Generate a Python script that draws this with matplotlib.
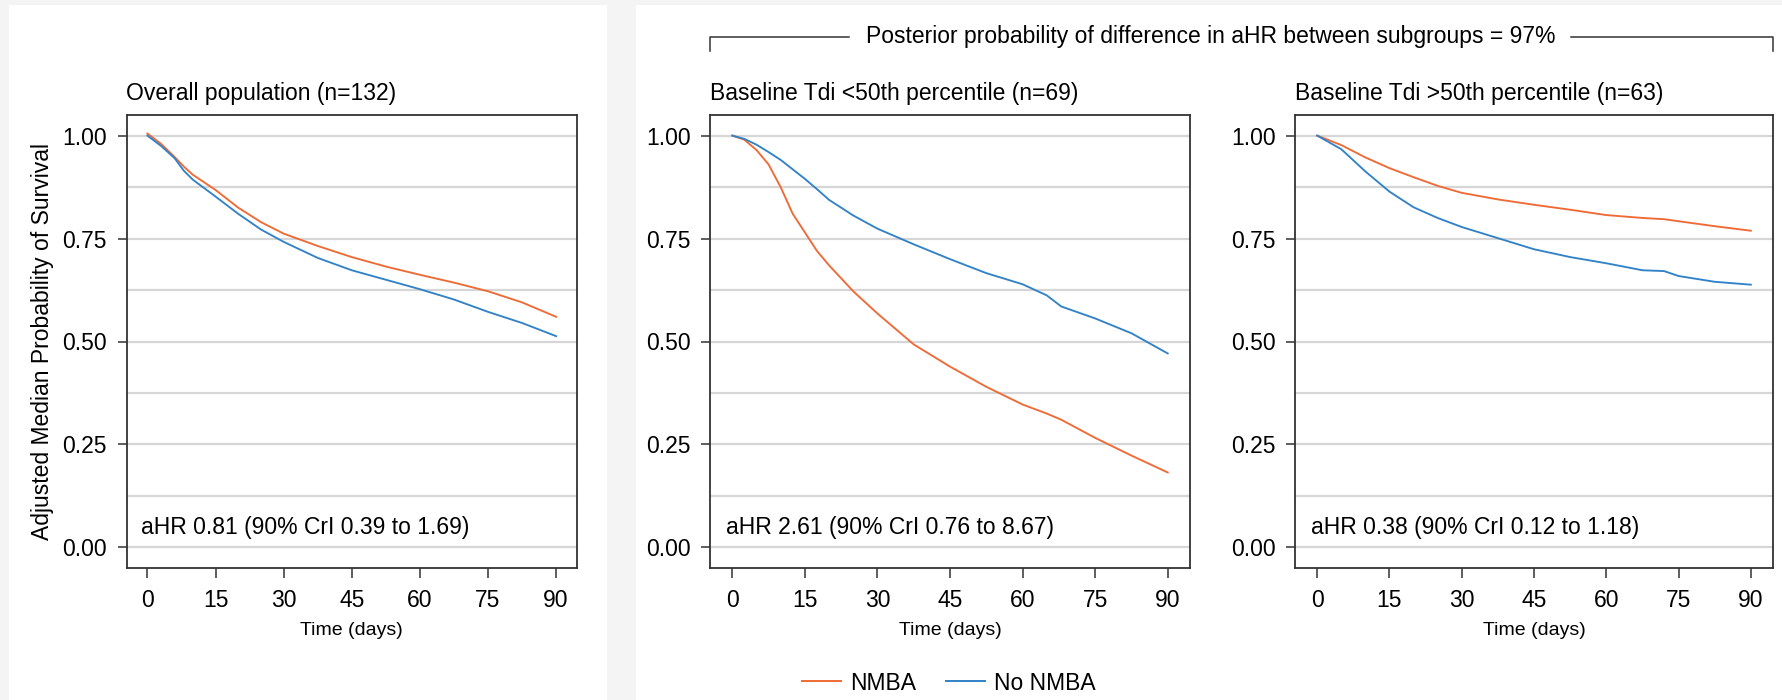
import numpy as np
import matplotlib.pyplot as plt
from matplotlib.lines import Line2D
from matplotlib.patches import Rectangle

plt.rcParams['font.family'] = ['Liberation Sans', 'DejaVu Sans']

# ====================== DATA ======================
t = [0, 3, 6, 8, 10, 15, 20, 25, 30, 37.5, 45, 52.5, 60, 67.5, 75, 82.5, 90]
overall_nmba    = [1.005, 0.98, 0.948, 0.925, 0.905, 0.868, 0.825, 0.79, 0.762, 0.732, 0.705, 0.682, 0.662, 0.643, 0.622, 0.595, 0.56]
overall_no_nmba = [1.0, 0.975, 0.945, 0.915, 0.893, 0.852, 0.81, 0.772, 0.742, 0.703, 0.673, 0.65, 0.627, 0.602, 0.572, 0.545, 0.513]

t_low = [0, 2.5, 5, 7.5, 10, 12.5, 15, 17.5, 20, 25, 30, 37.5, 45, 52.5, 60, 65, 68, 75, 82.5, 90]
low_nmba    = [1.0, 0.99, 0.965, 0.93, 0.875, 0.81, 0.765, 0.72, 0.685, 0.622, 0.568, 0.493, 0.439, 0.39, 0.347, 0.325, 0.31, 0.266, 0.223, 0.182]
low_no_nmba = [1.0, 0.992, 0.978, 0.96, 0.941, 0.918, 0.895, 0.87, 0.844, 0.806, 0.774, 0.736, 0.70, 0.666, 0.639, 0.612, 0.585, 0.556, 0.52, 0.471]

t_high = [0, 5, 10, 15, 20, 25, 30, 37.5, 45, 52.5, 60, 67.5, 72, 75, 82.5, 90]
high_nmba    = [1.0, 0.977, 0.947, 0.921, 0.899, 0.878, 0.861, 0.845, 0.832, 0.82, 0.807, 0.80, 0.797, 0.792, 0.78, 0.769]
high_no_nmba = [1.0, 0.967, 0.913, 0.864, 0.826, 0.80, 0.778, 0.751, 0.724, 0.705, 0.69, 0.673, 0.671, 0.659, 0.645, 0.638]

titles = ['Overall population (n=132)',
          'Baseline Tdi <50th percentile (n=69)',
          'Baseline Tdi >50th percentile (n=63)']
ahr_text = ['aHR 0.81 (90% CrI 0.39 to 1.69)',
            'aHR 2.61 (90% CrI 0.76 to 8.67)',
            'aHR 0.38 (90% CrI 0.12 to 1.18)']
xticks = [0, 15, 30, 45, 60, 75, 90]
yticks = [0.0, 0.25, 0.5, 0.75, 1.0]

ORANGE = '#ef6a35'
BLUE = '#3282c8'
FS = 16.5

# ====================== FIGURA ======================
W, H = 1782, 700
fig = plt.figure(figsize=(W / 100, H / 100), dpi=100, facecolor='#f4f4f4')

# painéis brancos de fundo (atrás dos eixos)
fig.patches.append(Rectangle((9 / W, 0), 598 / W, 1 - 5 / H, transform=fig.transFigure,
                             facecolor='white', edgecolor='none', zorder=-10))
fig.patches.append(Rectangle((636 / W, 0), 1 - 636 / W, 1 - 5 / H, transform=fig.transFigure,
                             facecolor='white', edgecolor='none', zorder=-10))

bottom = 1 - 568 / H
height = 453 / H
boxes = [(126.5, 450.5), (710, 480), (1295, 478)]
series = [(t, overall_nmba, overall_no_nmba),
          (t_low, low_nmba, low_no_nmba),
          (t_high, high_nmba, high_no_nmba)]

for i, ((x0, w), (tt, nm, no)) in enumerate(zip(boxes, series)):
    ax = fig.add_axes([x0 / W, bottom, w / W, height])
    ax.set_facecolor('white')
    ax.plot(tt, nm, color=ORANGE, lw=1.35, zorder=3)
    ax.plot(tt, no, color=BLUE, lw=1.35, zorder=3)
    ax.set_xlim(-4.6, 94.6)
    ax.set_ylim(-0.05, 1.05)
    ax.set_xticks(xticks)
    ax.set_yticks(yticks)
    ax.set_yticklabels(['%.2f' % v for v in yticks])
    ax.set_yticks(np.arange(0.125, 1.0, 0.25), minor=True)
    ax.grid(True, which='both', axis='y', color='#d6d6d6', lw=1.6, zorder=1)
    ax.tick_params(axis='both', which='major', labelsize=FS, width=1.1, color='#333333')
    ax.tick_params(axis='x', which='major', length=7, pad=8)
    ax.tick_params(axis='y', which='major', length=6.5, pad=7.5)
    ax.tick_params(axis='y', which='minor', length=0)
    for s in ax.spines.values():
        s.set_color('#333333')
        s.set_linewidth(1.3)
    ax.set_xlabel('Time (days)', fontsize=14, labelpad=7)
    ax.set_title(titles[i], loc='left', fontsize=FS, pad=11)
    ax.text(-1.3, 0.048, ahr_text[i], fontsize=FS, va='center', ha='left')
    if i == 0:
        ax.set_ylabel('Adjusted Median Probability of Survival', fontsize=FS, labelpad=6)

# ====================== COLCHETE DO TOPO ======================
yb = 1 - 37 / H
ytip = 1 - 51 / H
fig.add_artist(Line2D([710 / W, 710 / W, 849 / W], [ytip, yb, yb], color='#333333', lw=1.1))
fig.add_artist(Line2D([1571 / W, 1773 / W, 1773 / W], [yb, yb, ytip], color='#333333', lw=1.1))
fig.text(1211 / W, yb, 'Posterior probability of difference in aHR between subgroups = 97%',
         ha='center', va='center', fontsize=FS)

# ====================== LEGENDA ======================
handles = [Line2D([], [], color=ORANGE, lw=1.4), Line2D([], [], color=BLUE, lw=1.4)]
fig.legend(handles, ['NMBA', 'No NMBA'], loc='center', bbox_to_anchor=(949 / W, 1 - 683 / H),
           ncol=2, frameon=False, fontsize=FS, handlelength=1.7, handletextpad=0.4,
           columnspacing=1.3)

fig.savefig('out.png', dpi=100, facecolor=fig.get_facecolor())
